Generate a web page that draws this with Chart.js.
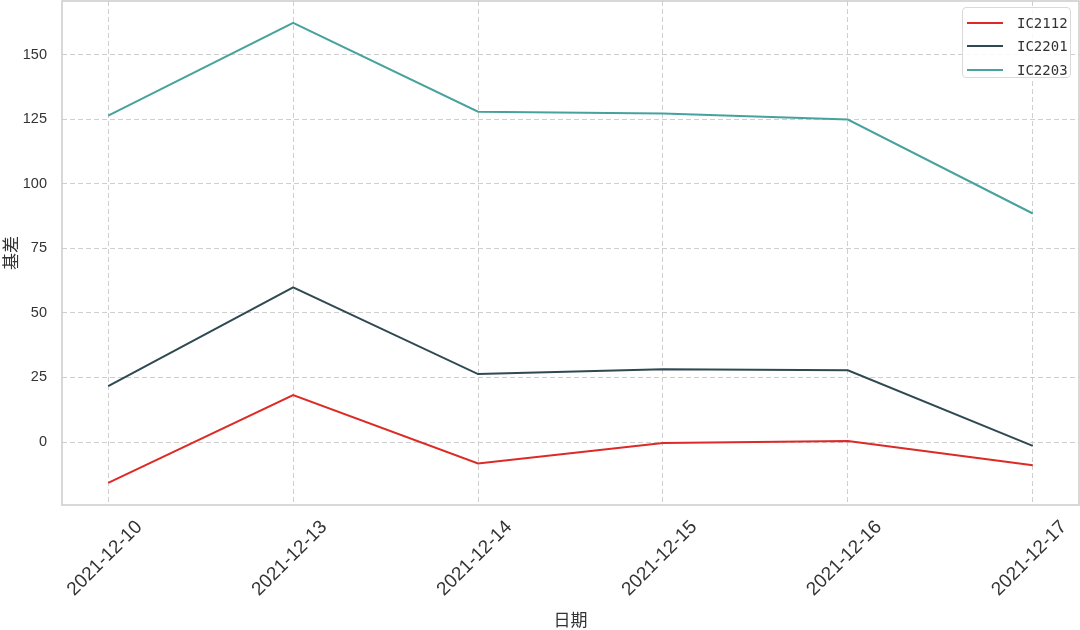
<!DOCTYPE html>
<html>
<head>
<meta charset="utf-8">
<script src="https://cdn.jsdelivr.net/npm/chart.js@4/dist/chart.umd.min.js"></script>
<style>
  html, body { margin: 0; padding: 0; background: #ffffff; }
  #wrap { position: relative; width: 1080px; height: 630px; }
  #legend {
    position: absolute; left: 962px; top: 7px; width: 109px; height: 71px;
    border: 1px solid #d9d9d9; border-radius: 4px; background: rgba(255,255,255,0.85);
    box-sizing: border-box; padding-top: 3px;
  }
  .legend-row { display: flex; align-items: center; height: 23.5px; }
  .legend-line { width: 36px; height: 2px; margin-left: 4px; margin-right: 14px; }
  .legend-text { font: 14px "DejaVu Sans Mono", monospace; color: #333; }
</style>
</head>
<body>
<div id="wrap">
  <canvas id="chart" width="1080" height="630"></canvas>
  <div id="legend"></div>
</div>
<script>
// 日期（x 轴标签）
const dates = ['2021-12-10', '2021-12-13', '2021-12-14', '2021-12-15', '2021-12-16', '2021-12-17'];
// 各合约基差
const ic2112 = [-15.8, 18.2, -8.3, -0.4, 0.4, -9.0];
const ic2201 = [21.6, 59.9, 26.3, 28.2, 27.8, -1.5];
const ic2203 = [126.4, 162.3, 127.9, 127.2, 124.9, 88.5];
// y 轴刻度
const yTicks = [0, 25, 50, 75, 100, 125, 150];

const seriesNames = ['IC2112', 'IC2201', 'IC2203'];
const seriesColors = ['#dc2a26', '#2e4952', '#47a29d'];
const seriesData = [ic2112, ic2201, ic2203];

// 外框：四边都画
const frame = {
  id: 'frame',
  afterDraw(chart) {
    const { ctx, chartArea: a } = chart;
    ctx.save();
    ctx.strokeStyle = '#cccccc';
    ctx.lineWidth = 1.5;
    ctx.strokeRect(a.left, a.top, a.right - a.left, a.bottom - a.top);
    ctx.restore();
  }
};

// 去掉刻度标签带来的额外留白
const noPad = (scale) => {
  scale.paddingTop = 0;
  scale.paddingBottom = 0;
  scale.paddingLeft = 0;
  scale.paddingRight = 0;
};

const datasets = seriesNames.map((name, i) => ({
  label: name,
  data: seriesData[i].map((v, j) => ({ x: j, y: v })),
  borderColor: seriesColors[i],
  backgroundColor: seriesColors[i],
  borderWidth: 2,
  pointRadius: 0,
  tension: 0,
  fill: false
}));

new Chart(document.getElementById('chart'), {
  type: 'line',
  data: { datasets },
  plugins: [frame],
  options: {
    responsive: false,
    devicePixelRatio: 1,
    animation: false,
    layout: { padding: { top: 1, right: 1, left: 0, bottom: 0 } },
    plugins: {
      legend: { display: false },
      tooltip: { enabled: false }
    },
    scales: {
      x: {
        type: 'linear',
        min: -0.25,
        max: 5.25,
        afterBuildTicks: (scale) => {
          scale.ticks = dates.map((d, i) => ({ value: i }));
        },
        afterFit: (scale) => { scale.height = 125; noPad(scale); },
        grid: { color: '#cfcfcf', lineWidth: 1, drawTicks: false },
        border: { display: false, dash: [5, 3] },
        ticks: {
          minRotation: 45,
          maxRotation: 45,
          padding: 11,
          labelOffset: 31,
          color: '#333333',
          font: { family: 'Liberation Sans', size: 19 },
          callback: (v) => dates[v]
        },
        title: {
          display: true,
          text: '日期',
          color: '#333333',
          font: { family: 'Noto Sans CJK SC', size: 17 },
          padding: { top: 0, bottom: 0 }
        }
      },
      y: {
        min: -24.4,
        max: 170.8,
        afterBuildTicks: (scale) => {
          scale.ticks = yTicks.map(v => ({ value: v }));
        },
        afterFit: (scale) => { scale.width = 62; noPad(scale); },
        grid: { color: '#cfcfcf', lineWidth: 1, drawTicks: false },
        border: { display: false, dash: [5, 3] },
        ticks: {
          padding: 15,
          color: '#333333',
          font: { family: 'Liberation Sans', size: 14.5 }
        },
        title: {
          display: true,
          text: '基差',
          color: '#333333',
          font: { family: 'Noto Sans CJK SC', size: 17 },
          padding: { top: 0, bottom: 0 }
        }
      }
    }
  }
});

// 图例（放在绘图区右上角）
const legend = document.getElementById('legend');
seriesNames.forEach((name, i) => {
  const row = document.createElement('div');
  row.className = 'legend-row';
  row.innerHTML = `<span class="legend-line" style="background:${seriesColors[i]}"></span><span class="legend-text">${name}</span>`;
  legend.appendChild(row);
});
</script>
</body>
</html>
